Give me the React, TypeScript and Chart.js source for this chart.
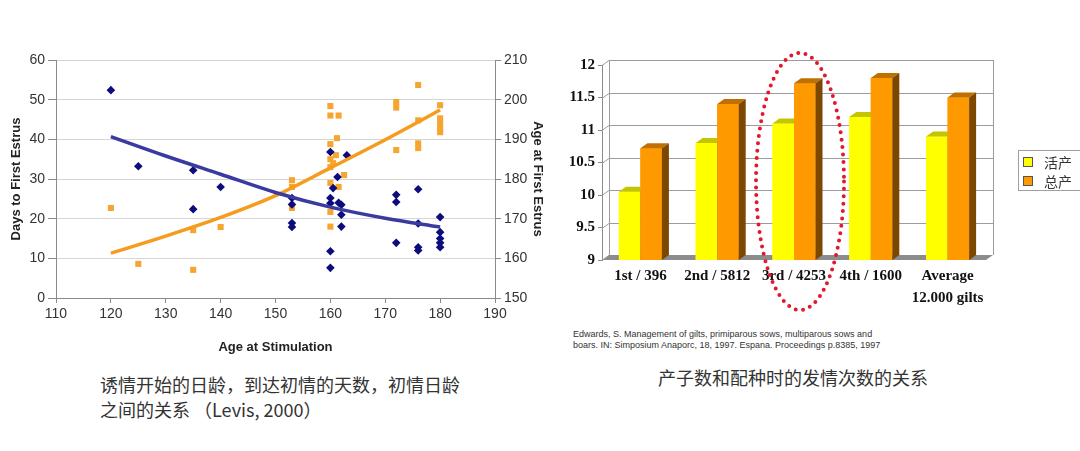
import React, { useEffect, useRef } from 'react';
import { Chart, registerables } from 'chart.js';

Chart.register(...registerables);

// ---------- Left chart data (Levis, 2000) ----------
const blueX = [120, 125, 135, 135, 140, 153, 153, 153, 153, 160, 160.5, 160, 160, 160, 160, 161.3, 161.5, 162, 162, 162, 163, 172, 172, 172, 176, 176, 176, 176, 180, 180, 180, 180, 180];
const blueY = [52.4, 33.2, 32.2, 22.4, 28, 25.2, 23.6, 18.9, 17.9, 36.8, 27.7, 25.2, 23.9, 11.8, 7.6, 30.5, 24, 23.5, 21, 18, 36, 26, 24.2, 13.9, 27.4, 18.8, 12.8, 12, 20.4, 16.6, 15, 13.9, 12.8];

const orangeX = [120, 125, 135, 135, 140, 153, 153, 153, 160, 160, 161.5, 161.2, 160, 160, 160.5, 161, 160, 160, 160, 160, 162.5, 161.5, 172, 172, 172, 176, 176, 176, 176, 180, 180, 180, 180, 180];
const orangeY = [172.7, 158.6, 157.1, 167.1, 167.9, 179.7, 178, 172.7, 198.4, 196, 196, 190.3, 188.8, 185, 184, 186, 183, 179, 171.7, 168, 181, 178, 199.4, 198, 187.3, 203.7, 194.8, 189, 187.8, 198.6, 195.3, 194, 192.8, 191.8];

const trendX = [120, 130, 140, 150, 160, 170, 180];
const blueTrend = [40.7, 35.8, 31.2, 26.6, 22.9, 20.1, 17.9];
const orangeTrend = [161.3, 165.6, 170.3, 175.8, 182.8, 189.9, 197.4];

// ---------- Right chart data (Edwards, 1997) ----------
const parityLabels: (string | string[])[] = ['1st / 396', '2nd / 5812', '3rd / 4253', '4th / 1600', ['Average', '12.000 gilts']];
const seriesNames = ['活产', '总产'];
const liveBorn = [10.05, 10.8, 11.1, 11.2, 10.9];
const totalBorn = [10.72, 11.4, 11.72, 11.8, 11.5];

const YELLOW = '#ffff00';
const ORANGE = '#ff9900';
const FACE = [
  { front: YELLOW, top: '#c4c400', side: '#8a8a00' },
  { front: ORANGE, top: '#c07000', side: '#7c4800' },
];

const SANS = '"Liberation Sans", Arial, sans-serif';
const SERIF = '"Liberation Serif", "Times New Roman", serif';
const CJK = '"Noto Sans CJK SC", "Noto Sans", sans-serif';

const pts = (xs: number[], ys: number[]) => xs.map((x, i) => ({ x, y: ys[i] }));

const DX = 7;
const DY = -5;

const threeD = {
  id: 'threeD',
  beforeDatasetsDraw(chart: any) {
    const { ctx, chartArea: a, scales } = chart;
    const ys = scales.y;
    const line = (x1: number, y1: number, x2: number, y2: number) => {
      ctx.beginPath();
      ctx.moveTo(x1, y1);
      ctx.lineTo(x2, y2);
      ctx.stroke();
    };
    ctx.save();
    // floor
    ctx.fillStyle = '#8c8c8c';
    ctx.beginPath();
    ctx.moveTo(a.left, a.bottom);
    ctx.lineTo(a.right, a.bottom);
    ctx.lineTo(a.right + DX, a.bottom + DY);
    ctx.lineTo(a.left + DX, a.bottom + DY);
    ctx.closePath();
    ctx.fill();
    ctx.strokeStyle = '#9c9c9c';
    ctx.lineWidth = 1;
    ys.ticks.forEach((t: any) => {
      const y = Math.round(ys.getPixelForValue(t.value)) + 0.5;
      if (t.value > ys.min) line(a.left + DX, y + DY, a.right + DX, y + DY);
      line(a.left, y, a.left + DX, y + DY);
    });
    line(a.left + DX + 0.5, a.top + DY, a.left + DX + 0.5, a.bottom + DY);
    line(a.right + DX + 0.5, a.top + DY, a.right + DX + 0.5, a.bottom + DY);
    ctx.restore();
  },
  afterDatasetsDraw(chart: any) {
    const { ctx, chartArea: a } = chart;
    const metas = [chart.getDatasetMeta(0), chart.getDatasetMeta(1)];
    const n = metas[0].data.length;
    ctx.save();
    for (let i = 0; i < n; i++) {
      metas.forEach((meta: any, d: number) => {
        const bar = meta.data[i];
        const p = bar.getProps(['x', 'y', 'base', 'width'], true);
        const base = Math.min(p.base, a.bottom);
        const y = p.y;
        const x0 = p.x - p.width / 2;
        const x1 = p.x + p.width / 2;
        const c = FACE[d];
        ctx.fillStyle = c.front;
        ctx.fillRect(x0, y, x1 - x0, base - y);
        ctx.fillStyle = c.top;
        ctx.beginPath();
        ctx.moveTo(x0, y);
        ctx.lineTo(x1, y);
        ctx.lineTo(x1 + DX, y + DY);
        ctx.lineTo(x0 + DX, y + DY);
        ctx.closePath();
        ctx.fill();
        ctx.fillStyle = c.side;
        ctx.beginPath();
        ctx.moveTo(x1, y);
        ctx.lineTo(x1 + DX, y + DY);
        ctx.lineTo(x1 + DX, base + DY);
        ctx.lineTo(x1, base);
        ctx.closePath();
        ctx.fill();
      });
    }
    ctx.restore();
  },
  afterDraw(chart: any) {
    const { ctx, chartArea: a, scales } = chart;
    const cx = scales.x.getPixelForValue(2) + 6;
    const top = a.top - 12;
    const bottom = a.bottom + 50;
    ctx.save();
    ctx.strokeStyle = '#e3172d';
    ctx.lineWidth = 4;
    ctx.lineCap = 'round';
    ctx.setLineDash([0, 7.4]);
    ctx.beginPath();
    ctx.ellipse(cx, (top + bottom) / 2, 44, (bottom - top) / 2, 0, 0, Math.PI * 2);
    ctx.stroke();
    ctx.restore();
  },
};

export default function App() {
  const leftRef = useRef<HTMLCanvasElement>(null);
  const rightRef = useRef<HTMLCanvasElement>(null);

  useEffect(() => {
    const left = new Chart(leftRef.current as HTMLCanvasElement, {
      type: 'scatter',
      data: {
        datasets: [
          {
            label: 'Days trend',
            type: 'line',
            data: pts(trendX, blueTrend),
            yAxisID: 'y',
            borderColor: '#3a3aa0',
            borderWidth: 3.5,
            pointRadius: 0,
            cubicInterpolationMode: 'monotone',
            fill: false,
            order: 0,
          } as any,
          {
            label: 'Age trend',
            type: 'line',
            data: pts(trendX, orangeTrend),
            yAxisID: 'y2',
            borderColor: '#f59c1e',
            borderWidth: 3.5,
            pointRadius: 0,
            cubicInterpolationMode: 'monotone',
            fill: false,
            order: 0,
          } as any,
          {
            label: 'Days to First Estrus',
            data: pts(blueX, blueY),
            yAxisID: 'y',
            pointStyle: 'rectRot',
            pointRadius: 4.3,
            backgroundColor: '#0c0c7c',
            borderColor: '#0c0c7c',
            borderWidth: 0,
            order: 1,
          },
          {
            label: 'Age at First Estrus',
            data: pts(orangeX, orangeY),
            yAxisID: 'y2',
            pointStyle: 'rect',
            pointRadius: 4.3,
            backgroundColor: '#f7a531',
            borderColor: '#f7a531',
            borderWidth: 0,
            order: 2,
          },
        ],
      },
      options: {
        responsive: false,
        animation: false,
        layout: { padding: { top: 60, left: 0, right: 0, bottom: 10 } },
        plugins: { legend: { display: false }, tooltip: { enabled: false } },
        scales: {
          x: {
            type: 'linear',
            min: 110,
            max: 190,
            ticks: { stepSize: 10, color: '#333', font: { family: SANS, size: 14 }, padding: 3 },
            grid: { drawOnChartArea: false, tickLength: 5, tickColor: '#8a8a8a' },
            border: { color: '#8a8a8a' },
            title: {
              display: true,
              text: 'Age at Stimulation',
              color: '#222',
              font: { family: SANS, size: 13, weight: 'bold' },
              padding: { top: 0, bottom: 5 },
            },
            afterFit: (s: any) => { s.height = 62; },
          },
          y: {
            position: 'left',
            min: 0,
            max: 60,
            ticks: { stepSize: 10, color: '#333', font: { family: SANS, size: 14 }, padding: 3 },
            grid: { color: '#d6d6d6', tickLength: 8, tickColor: '#8a8a8a' },
            border: { color: '#8a8a8a' },
            title: {
              display: true,
              text: 'Days to First Estrus',
              color: '#222',
              font: { family: SANS, size: 13, weight: 'bold' },
              padding: { top: 9, bottom: 0 },
            },
            afterFit: (s: any) => { s.width = 56; },
          },
          y2: {
            position: 'right',
            min: 150,
            max: 210,
            ticks: { stepSize: 10, color: '#333', font: { family: SANS, size: 14 }, padding: 3 },
            grid: { drawOnChartArea: false, tickLength: 6, tickColor: '#8a8a8a' },
            border: { color: '#8a8a8a' },
            title: {
              display: true,
              text: 'Age at First Estrus',
              color: '#222',
              font: { family: SANS, size: 13, weight: 'bold' },
              padding: { top: 15, bottom: 0 },
            },
            afterFit: (s: any) => { s.width = 65; },
          },
        },
      } as any,
    });

    const right = new Chart(rightRef.current as HTMLCanvasElement, {
      type: 'bar',
      data: {
        labels: parityLabels as any,
        datasets: [
          { label: seriesNames[0], data: liveBorn, backgroundColor: YELLOW, borderWidth: 0 },
          { label: seriesNames[1], data: totalBorn, backgroundColor: ORANGE, borderWidth: 0 },
        ],
      },
      options: {
        responsive: false,
        animation: false,
        layout: { padding: { top: 65, left: 0, right: 94, bottom: 10 } },
        datasets: { bar: { categoryPercentage: 0.56, barPercentage: 1 } },
        plugins: { legend: { display: false }, tooltip: { enabled: false } },
        scales: {
          x: {
            ticks: {
              color: '#111',
              font: { family: SERIF, size: 15, weight: 'bold', lineHeight: '22px' },
              padding: 5,
              maxRotation: 0,
              autoSkip: false,
            },
            grid: { display: false, drawTicks: false },
            border: { display: false },
            afterFit: (s: any) => { s.height = 50; },
          },
          y: {
            min: 9,
            max: 12,
            ticks: {
              stepSize: 0.5,
              color: '#111',
              font: { family: SERIF, size: 15, weight: 'bold' },
              padding: 3,
              callback: (v: any) => `${+v}`,
            },
            grid: { drawOnChartArea: false, tickLength: 4, tickColor: '#8a8a8a' },
            border: { color: '#8a8a8a' },
            afterFit: (s: any) => { s.width = 42; },
          },
        },
      } as any,
      plugins: [threeD],
    });

    return () => {
      left.destroy();
      right.destroy();
    };
  }, []);

  const legendItem = (name: string, color: string, top: number) => (
    <div style={{ position: 'absolute', left: 4, top, height: 20, display: 'flex', alignItems: 'center' }}>
      <div style={{ width: 8, height: 8, background: color, border: '1px solid #555' }} />
      <span style={{ marginLeft: 11, font: `14px ${CJK}`, color: '#333', lineHeight: '20px' }}>{name}</span>
    </div>
  );

  return (
    <div style={{ position: 'fixed', left: 0, top: 0, width: 1080, height: 451, background: '#fff', overflow: 'hidden' }}>
      <canvas ref={leftRef} width={560} height={370} style={{ position: 'absolute', left: 0, top: 0, width: 560, height: 370 }} />
      <canvas ref={rightRef} width={520} height={320} style={{ position: 'absolute', left: 560, top: 0, width: 520, height: 320 }} />
      <div style={{ position: 'absolute', left: 1018, top: 150, width: 80, height: 41, border: '1px solid #a0a0a0', boxSizing: 'border-box' }}>
        {legendItem(seriesNames[0], YELLOW, 1)}
        {legendItem(seriesNames[1], ORANGE, 20)}
      </div>
      <div style={{ position: 'absolute', left: 573, top: 329, font: `9px ${SANS}`, lineHeight: '10.5px', color: '#333', whiteSpace: 'nowrap' }}>
        <div>Edwards, S. Management of gilts, primiparous sows, multiparous sows and</div>
        <div>boars. IN: Simposium Anaporc, 18, 1997. Espana. Proceedings p.8385, 1997</div>
      </div>
      <div style={{ position: 'absolute', left: 100, top: 372, font: `18px ${CJK}`, lineHeight: '25px', color: '#333', whiteSpace: 'nowrap' }}>
        <div>诱情开始的日龄，到达初情的天数，初情日龄</div>
        <div>之间的关系 （Levis, 2000）</div>
      </div>
      <div style={{ position: 'absolute', left: 658, top: 365, font: `18px ${CJK}`, lineHeight: '25px', color: '#333', whiteSpace: 'nowrap' }}>
        产子数和配种时的发情次数的关系
      </div>
    </div>
  );
}
